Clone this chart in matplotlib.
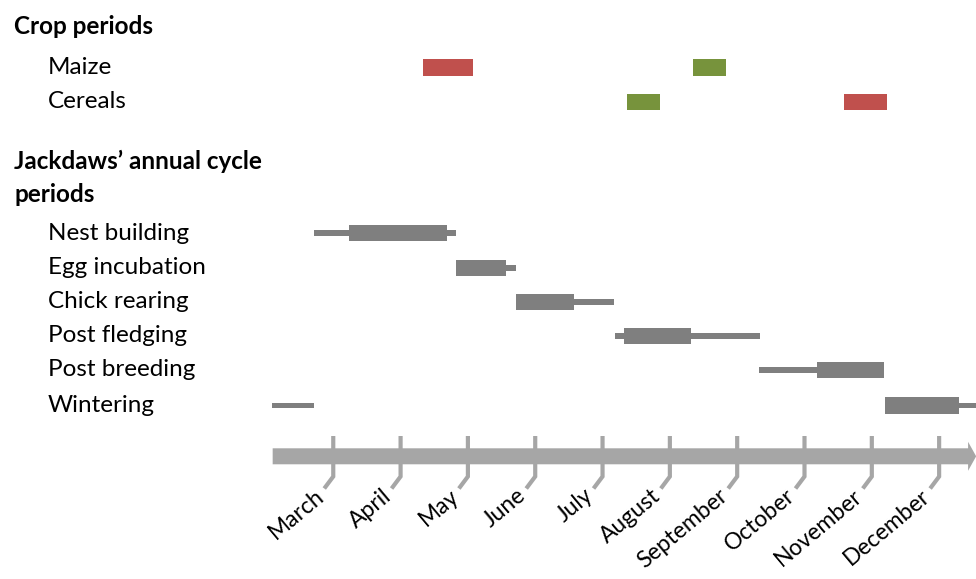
import matplotlib
matplotlib.use("Agg")
import matplotlib.pyplot as plt
from matplotlib.patches import Polygon, Rectangle

# ---------------- data (months; March tick = 3, December tick = 12) ----------------
months = ["March", "April", "May", "June", "July", "August",
          "September", "October", "November", "December"]
month_pos = [3, 4, 5, 6, 7, 8, 9, 10, 11, 12]

crop_names = ["Maize", "Cereals"]
# sowing (red) and harvest (green) periods: (start, end)
maize_sowing = (4.33, 5.08)
maize_harvest = (8.34, 8.83)
cereals_harvest = (7.36, 7.85)
cereals_sowing = (10.59, 11.22)

cycle_names = ["Nest building", "Egg incubation", "Chick rearing",
               "Post fledging", "Post breeding", "Wintering"]
# main period (thick) and extended period (thin)
cycle_main_start = [3.23, 4.83, 5.71, 7.32, 10.19, 11.20]
cycle_main_end = [4.69, 5.57, 6.58, 8.32, 11.18, 12.29]
cycle_ext_start = [2.71, 4.83, 5.71, 7.19, 9.32, 12.29]
cycle_ext_end = [4.83, 5.71, 7.17, 9.34, 10.19, 12.80]
wintering_early = (2.09, 2.71)   # continuation of wintering at start of year

axis_start = 2.10
axis_end = 12.55

# ---------------- styles ----------------
RED = "#C0504D"
GREEN = "#77933C"
GREY = "#7F7F7F"
AXGREY = "#A6A6A6"
W, H = 976, 579

plt.rcParams['font.family'] = ['Lato', 'DejaVu Sans']

fig = plt.figure(figsize=(W / 100, H / 100), dpi=100)
ax = fig.add_axes([0, 0, 1, 1])
px_per_month = 67.32
x_left = 7.5 - 636.2 / px_per_month
x_right = 7.5 + (W - 636.2) / px_per_month
ax.set_xlim(x_left, x_right)
ax.set_ylim(H, 0)
ax.axis("off")

# layout (y in pixel rows)
crop_rows = [67.5, 102]
cycle_rows = [233, 268, 302, 336, 370, 405.5]
thick_h = 16.7
thin_h = 5.5

def bar(x0, x1, yc, h, color):
    ax.add_patch(Rectangle((x0, yc - h / 2), x1 - x0, h, facecolor=color,
                           edgecolor="none", zorder=3))

# crop bars
bar(*maize_sowing, crop_rows[0], thick_h, RED)
bar(*maize_harvest, crop_rows[0], thick_h, GREEN)
bar(*cereals_harvest, crop_rows[1], thick_h, GREEN)
bar(*cereals_sowing, crop_rows[1], thick_h, RED)

# cycle bars
for i, yc in enumerate(cycle_rows):
    bar(cycle_ext_start[i], cycle_ext_end[i], yc, thin_h, GREY)
    bar(cycle_main_start[i], cycle_main_end[i], yc, thick_h, GREY)
bar(*wintering_early, cycle_rows[-1], thin_h, GREY)

# timeline axis with arrow
ay = 456.3
head_start = 12.43
ax.add_patch(Polygon([(axis_start, ay - 8), (head_start, ay - 8), (head_start, ay - 14.5),
                      (axis_end, ay), (head_start, ay + 14.5), (head_start, ay + 8),
                      (axis_start, ay + 8)], closed=True, facecolor=AXGREY,
                     edgecolor="none", zorder=2))

diag_dx = 9 / px_per_month
for m, lab in zip(month_pos, months):
    ax.plot([m, m, m - diag_dx], [436, 476.5, 488.5], color=AXGREY, lw=3,
            solid_capstyle="butt", solid_joinstyle="miter", zorder=2)
    ax.text(m - 19 / px_per_month, 485, lab, rotation=40, rotation_mode="anchor",
            ha="right", va="top", fontsize=16.5, color="black")

# labels
def ftext(xp, yp, s, bold=False):
    fig.text(xp / W, 1 - yp / H, s, fontsize=17.5, ha="left", va="center",
             fontweight="bold" if bold else "normal", color="black")

ftext(14, 27, "Crop periods", bold=True)
for name, yc in zip(crop_names, crop_rows):
    ftext(48, yc, name)
ftext(14, 161, "Jackdaws\u2019 annual cycle", bold=True)
ftext(14, 195, "periods", bold=True)
for name, yc in zip(cycle_names, cycle_rows):
    ftext(48, yc, name)

fig.savefig("out.png", dpi=100)
